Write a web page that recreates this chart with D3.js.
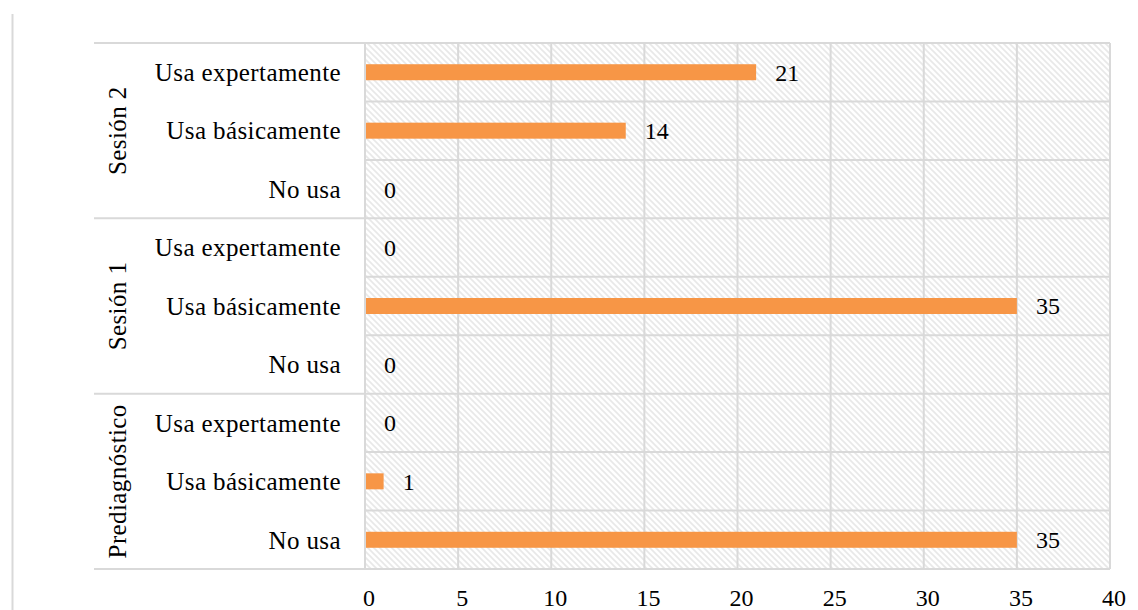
<!DOCTYPE html>
<html>
<head>
<meta charset="utf-8">
<script src="https://cdn.jsdelivr.net/npm/d3@7"></script>
<style>
  html, body { margin: 0; padding: 0; background: #fff; }
  svg text { font-family: "Liberation Serif", "Times New Roman", serif; fill: #000; }
</style>
</head>
<body>
<svg id="chart" width="1138" height="610"></svg>
<script>
// Groups, drawn bottom-to-top as in the category axis
const groups = ["Prediagnóstico", "Sesión 1", "Sesión 2"];
const levels = ["No usa", "Usa básicamente", "Usa expertamente"];
// counts per group, in the order of `levels`
const prediagnostico = [35, 1, 0];
const sesion1 = [0, 35, 0];
const sesion2 = [0, 14, 21];
const xTicks = [0, 5, 10, 15, 20, 25, 30, 35, 40];

const seriesByGroup = [prediagnostico, sesion1, sesion2];
const rows = [];
groups.forEach((g, gi) => {
  levels.forEach((lv, li) => {
    rows.push({ key: g + "|" + lv, group: g, level: lv, value: seriesByGroup[gi][li] });
  });
});

const svg = d3.select("#chart");
const plot = { left: 365, right: 1110, top: 43, bottom: 569 };
const labelLeft = 94;
const fontSize = 25;
const spacing = 0.4;

// hatched plot background
const defs = svg.append("defs");
const pat = defs.append("pattern")
  .attr("id", "hatch").attr("patternUnits", "userSpaceOnUse")
  .attr("width", 6).attr("height", 6);
pat.append("rect").attr("width", 6).attr("height", 6).attr("fill", "#fff");
pat.append("path")
  .attr("d", "M-1,-1 L7,7 M-4,2 L1,7 M5,-1 L10,4")
  .attr("stroke", "#e8e8e8").attr("stroke-width", 1.6);

const x = d3.scaleLinear().domain([0, 40]).range([plot.left, plot.right]);
// rows from bottom (first) to top (last)
const y = d3.scaleBand()
  .domain(rows.map(r => r.key).reverse())
  .range([plot.top, plot.bottom])
  .paddingInner(0).paddingOuter(0);

// outer chart frame edge
svg.append("line")
  .attr("x1", 12.5).attr("x2", 12.5).attr("y1", 14).attr("y2", 610)
  .attr("stroke", "#d9d9d9").attr("stroke-width", 2);

svg.append("rect")
  .attr("x", plot.left).attr("y", plot.top)
  .attr("width", plot.right - plot.left).attr("height", plot.bottom - plot.top)
  .attr("fill", "url(#hatch)");

const gridColor = "#d9d9d9";

// vertical gridlines
svg.append("g").selectAll("line").data(xTicks).join("line")
  .attr("x1", d => x(d)).attr("x2", d => x(d))
  .attr("y1", plot.top).attr("y2", plot.bottom)
  .attr("stroke", gridColor).attr("stroke-width", 2);

// horizontal row lines
const rowEdges = rows.map(r => y(r.key));
rowEdges.push(plot.bottom);
svg.append("g").selectAll("line").data(rowEdges).join("line")
  .attr("x1", plot.left).attr("x2", plot.right)
  .attr("y1", d => d).attr("y2", d => d)
  .attr("stroke", gridColor).attr("stroke-width", 2);

// group separators across the label area
const groupEdges = groups.map(g => y(g + "|" + levels[levels.length - 1]));
groupEdges.push(plot.bottom);
svg.append("g").selectAll("line").data(groupEdges).join("line")
  .attr("x1", labelLeft).attr("x2", plot.left)
  .attr("y1", d => d).attr("y2", d => d)
  .attr("stroke", gridColor).attr("stroke-width", 2);

// bars
const barH = 16;
svg.append("g").selectAll("rect").data(rows.filter(r => r.value > 0)).join("rect")
  .attr("x", x(0) + 1)
  .attr("y", d => y(d.key) + y.bandwidth() / 2 - barH / 2)
  .attr("width", d => x(d.value) - x(0) - 1)
  .attr("height", barH)
  .attr("fill", "#f79646");

// value labels
svg.append("g").selectAll("text").data(rows).join("text")
  .attr("x", d => x(d.value) + 19)
  .attr("y", d => y(d.key) + y.bandwidth() / 2)
  .attr("dy", "0.35em")
  .attr("font-size", 24)
  .text(d => d.value);

// row labels
svg.append("g").selectAll("text").data(rows).join("text")
  .attr("x", 341)
  .attr("y", d => y(d.key) + y.bandwidth() / 2)
  .attr("dy", "0.35em")
  .attr("text-anchor", "end")
  .attr("font-size", fontSize)
  .attr("letter-spacing", spacing)
  .text(d => d.level);

// group labels, rotated
svg.append("g").selectAll("text").data(groups).join("text")
  .attr("transform", g => {
    const top = y(g + "|" + levels[levels.length - 1]);
    const bot = y(g + "|" + levels[0]) + y.bandwidth();
    return `translate(117,${(top + bot) / 2}) rotate(-90)`;
  })
  .attr("dy", "0.35em")
  .attr("text-anchor", "middle")
  .attr("font-size", fontSize)
  .attr("letter-spacing", spacing)
  .text(d => d);

// x-axis tick labels
const xAxis = d3.axisBottom(x).tickValues(xTicks).tickSize(0).tickPadding(0);
const ax = svg.append("g").attr("transform", `translate(0,${plot.bottom})`).call(xAxis);
ax.select(".domain").remove();
ax.selectAll("text")
  .attr("y", 30)
  .attr("dy", "0.3em")
  .attr("dx", "0.15em")
  .attr("font-size", 24)
  .style("font-family", '"Liberation Serif", "Times New Roman", serif')
  .attr("fill", "#000");
</script>
</body>
</html>
